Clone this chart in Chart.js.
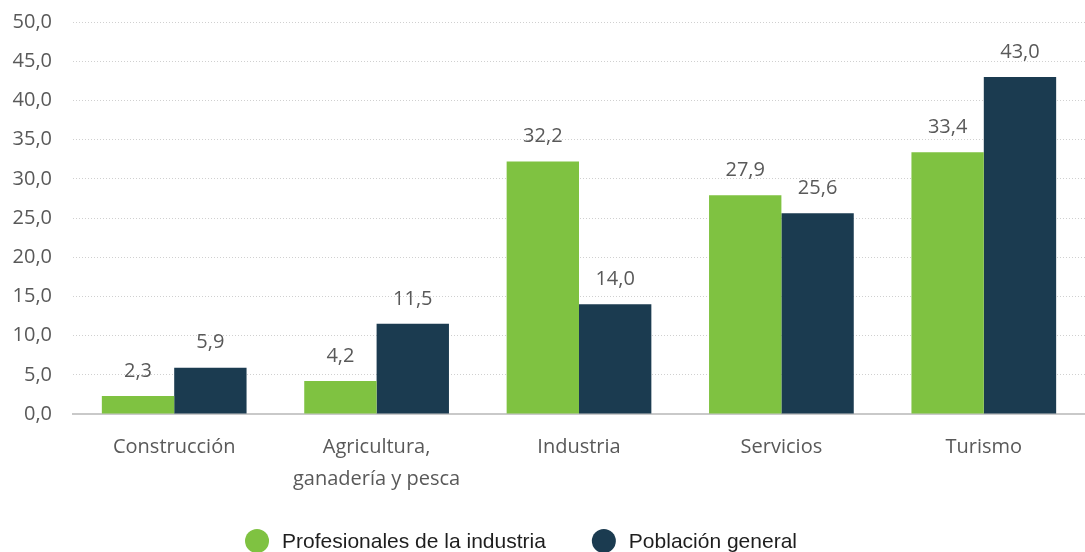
<!DOCTYPE html>
<html>
<head>
<meta charset="utf-8">
<style>
  html, body { margin: 0; padding: 0; background: #fff; }
  #wrap { width: 1085px; height: 552px; position: relative; }
</style>
<script src="https://cdn.jsdelivr.net/npm/chart.js@4"></script>
</head>
<body>
<div id="wrap"><canvas id="c" width="1085" height="552"></canvas></div>
<script>
// Sectors on the x axis (multi-line labels as arrays)
const categories = [
  'Construcción',
  ['Agricultura,', 'ganadería y pesca'],
  'Industria',
  'Servicios',
  'Turismo'
];
const seriesNames = ['Profesionales de la industria', 'Población general'];
const profesionales = [2.3, 4.2, 32.2, 27.9, 33.4];
const poblacion = [5.9, 11.5, 14.0, 25.6, 43.0];
const yTicks = [0, 5, 10, 15, 20, 25, 30, 35, 40, 45, 50];

const GREEN = '#7fc241';
const NAVY = '#1b3b50';
const TEXT = '#595959';
const FONT = '"Open Sans", sans-serif';
const fmt = v => v.toFixed(1).replace('.', ',');

// Value labels above each bar
const valueLabels = {
  id: 'valueLabels',
  afterDatasetsDraw(chart) {
    const ctx = chart.ctx;
    ctx.save();
    ctx.font = '20px ' + FONT;
    ctx.fillStyle = TEXT;
    ctx.textAlign = 'center';
    ctx.textBaseline = 'middle';
    chart.data.datasets.forEach((ds, i) => {
      chart.getDatasetMeta(i).data.forEach((bar, j) => {
        ctx.fillText(fmt(ds.data[j]), bar.x, bar.y - 25);
      });
    });
    ctx.restore();
  }
};

// Legend with round markers, drawn at the foot of the canvas
const circleLegend = {
  id: 'circleLegend',
  afterDraw(chart, args, opts) {
    const ctx = chart.ctx;
    const r = opts.radius, gap = opts.gap, spacing = opts.spacing;
    ctx.save();
    ctx.font = opts.size + 'px ' + opts.family;
    const items = chart.data.datasets.map(ds => ({
      text: ds.label, color: ds.backgroundColor, w: ctx.measureText(ds.label).width
    }));
    const total = items.reduce((s, it) => s + 2 * r + gap + it.w, 0) + spacing * (items.length - 1);
    let x = opts.centerX - total / 2;
    const y = opts.y;
    ctx.textBaseline = 'middle';
    ctx.textAlign = 'left';
    items.forEach(it => {
      ctx.beginPath();
      ctx.arc(x + r, y, r, 0, Math.PI * 2);
      ctx.fillStyle = it.color;
      ctx.fill();
      ctx.fillStyle = opts.color;
      ctx.fillText(it.text, x + 2 * r + gap, y + 1);
      x += 2 * r + gap + it.w + spacing;
    });
    ctx.restore();
  }
};

new Chart(document.getElementById('c'), {
  type: 'bar',
  data: {
    labels: categories,
    datasets: [
      { label: seriesNames[0], data: profesionales, backgroundColor: GREEN, borderWidth: 0 },
      { label: seriesNames[1], data: poblacion, backgroundColor: NAVY, borderWidth: 0 }
    ]
  },
  options: {
    responsive: false,
    animation: false,
    devicePixelRatio: 1,
    layout: { padding: { top: 22, right: 0, left: 0, bottom: 0 } },
    datasets: { bar: { categoryPercentage: 0.715, barPercentage: 1.0 } },
    plugins: {
      tooltip: { enabled: false },
      legend: { display: false },
      circleLegend: {
        radius: 12, gap: 13, spacing: 46, centerX: 521, y: 541,
        size: 21, family: '"Liberation Sans", Arial, sans-serif', color: '#1e1e1e'
      }
    },
    scales: {
      x: {
        afterFit(scale) { scale.height = 138; },
        grid: { display: false, drawTicks: false },
        border: { display: true, color: '#c9c9c9', width: 2 },
        ticks: {
          color: TEXT,
          padding: 17,
          font: { family: FONT, size: 20, lineHeight: 1.6 },
          maxRotation: 0
        }
      },
      y: {
        min: 0,
        max: 50,
        afterBuildTicks(scale) { scale.ticks = yTicks.map(v => ({ value: v })); },
        afterFit(scale) {
          scale.width = 73;
          scale.paddingTop = 0;
          scale.paddingBottom = 0;
        },
        grid: { color: '#d0d0d0', lineWidth: 1, drawTicks: false },
        border: { display: false, dash: [1, 2] },
        ticks: {
          color: TEXT,
          padding: 21,
          font: { family: FONT, size: 20 },
          callback: v => fmt(v)
        }
      }
    }
  },
  plugins: [valueLabels, circleLegend]
});
</script>
</body>
</html>
